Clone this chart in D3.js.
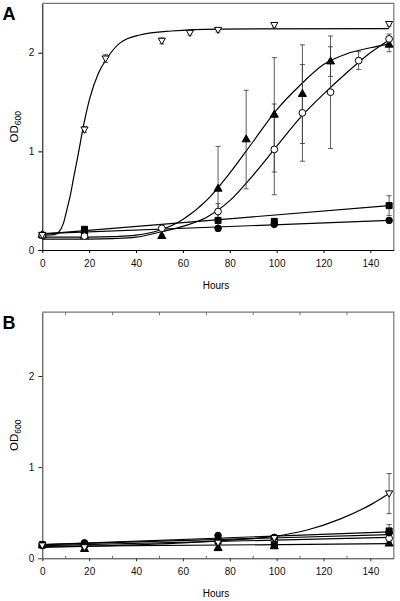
<!DOCTYPE html>
<html><head><meta charset="utf-8">
<script src="https://cdn.jsdelivr.net/npm/d3@7"></script>
<style>body{margin:0;background:#fff;} text{font-family:"Liberation Sans",Arial,sans-serif;}</style>
</head><body><svg id="c" width="400" height="601"></svg>
<script>
// ---------- DATA ----------
const xTicks = [0, 20, 40, 60, 80, 100, 120, 140];
const yTicks = [0, 1, 2];
const minorTicks = [10, 30, 50, 70, 90, 110, 130];

// Panel A measured points (hours, OD600, error)
const A_invTri_x = [0, 18, 27, 51, 63, 75, 99, 148];
const A_invTri_y = [0.15, 1.22, 1.94, 2.12, 2.20, 2.23, 2.28, 2.29];
const A_invTri_e = [0.01, 0.03, 0.04, 0.03, 0.02, 0.02, 0.02, 0.02];
const A_tri_x = [0, 18, 51, 75, 87, 99, 111, 123, 148];
const A_tri_y = [0.15, 0.14, 0.14, 0.62, 1.12, 1.37, 1.58, 1.91, 2.08];
const A_tri_e = [0.01, 0.01, 0.02, 0.43, 0.50, 0.58, 0.50, 0.15, 0.07];
const A_oc_x = [0, 18, 51, 75, 99, 111, 123, 135, 148];
const A_oc_y = [0.15, 0.14, 0.22, 0.39, 1.02, 1.39, 1.60, 1.92, 2.14];
const A_oc_e = [0.01, 0.03, 0.02, 0.08, 0.46, 0.49, 0.57, 0.09, 0.05];
const A_sq_x = [0, 18, 75, 99, 148];
const A_sq_y = [0.15, 0.21, 0.30, 0.29, 0.45];
const A_sq_e = [0.01, 0.02, 0.02, 0.02, 0.10];
const A_fc_x = [0, 18, 75, 99, 148];
const A_fc_y = [0.15, 0.17, 0.22, 0.26, 0.30];
const A_fc_e = [0.01, 0.01, 0.02, 0.02, 0.02];

// Panel A fitted curves
const A_invTri_fitX = [0, 5, 7, 9, 10.5, 12, 13.2, 15.4, 17.5, 20.4, 23.9, 27.5, 33.2, 41.7, 55, 75, 148];
const A_invTri_fitY = [0.15, 0.155, 0.18, 0.27, 0.41, 0.56, 0.71, 0.98, 1.25, 1.55, 1.79, 1.94, 2.10, 2.18, 2.22, 2.24, 2.245];
const A_tri_fitX = [0, 20, 30, 40, 50, 60, 70, 80, 90, 100, 110, 120, 130, 140, 148];
const A_tri_fitY = [0.13, 0.13, 0.135, 0.15, 0.20, 0.31, 0.50, 0.78, 1.10, 1.42, 1.67, 1.88, 1.99, 2.05, 2.09];
const A_oc_fitX = [0, 20, 30, 40, 50, 60, 70, 80, 90, 100, 110, 120, 130, 140, 148];
const A_oc_fitY = [0.11, 0.11, 0.115, 0.13, 0.18, 0.24, 0.33, 0.50, 0.76, 1.05, 1.34, 1.58, 1.80, 2.00, 2.13];
const A_sq_fitX = [0, 148];
const A_sq_fitY = [0.16, 0.45];
const A_fc_fitX = [0, 148];
const A_fc_fitY = [0.165, 0.30];

// Panel B measured points
const B_invTri_x = [0, 18, 75, 99, 148];
const B_invTri_y = [0.14, 0.12, 0.17, 0.22, 0.71];
const B_invTri_e = [0.01, 0.02, 0.02, 0.02, 0.22];
const B_tri_x = [0, 18, 75, 99, 148];
const B_tri_y = [0.14, 0.10, 0.11, 0.13, 0.16];
const B_tri_e = [0.01, 0.02, 0.02, 0.02, 0.02];
const B_oc_x = [0, 18, 75, 99, 148];
const B_oc_y = [0.14, 0.14, 0.20, 0.20, 0.22];
const B_oc_e = [0.01, 0.02, 0.03, 0.02, 0.03];
const B_sq_x = [0, 18, 75, 99, 148];
const B_sq_y = [0.15, 0.15, 0.19, 0.15, 0.30];
const B_sq_e = [0.01, 0.02, 0.02, 0.02, 0.07];
const B_fc_x = [0, 18, 75, 99, 148];
const B_fc_y = [0.15, 0.17, 0.25, 0.23, 0.28];
const B_fc_e = [0.01, 0.02, 0.02, 0.02, 0.02];

// Panel B fitted curves
const B_invTri_fitX = [0, 30, 60, 80, 99, 113, 127, 141, 148];
const B_invTri_fitY = [0.12, 0.14, 0.17, 0.20, 0.24, 0.31, 0.43, 0.60, 0.71];
const B_tri_fitX = [0, 148];
const B_tri_fitY = [0.13, 0.16];
const B_oc_fitX = [0, 148];
const B_oc_fitY = [0.14, 0.23];
const B_fc_fitX = [0, 148];
const B_fc_fitY = [0.15, 0.26];
const B_sq_fitX = [0, 148];
const B_sq_fitY = [0.15, 0.29];

// ---------- DRAWING ----------
const svg = d3.select("#c");
const x = d3.scaleLinear().domain([0, 150]).range([42.3, 393.8]);

const zip = (xs, ys, es) => xs.map((v, i) => ({x: v, y: ys[i], e: es ? es[i] : 0}));

const symbols = {
  fc: {type: d3.symbolCircle, size: 34, fill: "#000", rot: 0},
  sq: {type: d3.symbolSquare, size: 36, fill: "#000", rot: 0},
  oc: {type: d3.symbolCircle, size: 36, fill: "#fff", rot: 0},
  tri: {type: d3.symbolTriangle, size: 28, fill: "#000", rot: 0},
  invTri: {type: d3.symbolTriangle, size: 22, fill: "#fff", rot: 180}
};

function panel(cfg) {
  const y = d3.scaleLinear().domain([0, cfg.ymax]).range([cfg.bottom, cfg.top]);
  const g = svg.append("g");
  const x0 = x.range()[0], x1 = x.range()[1];

  // frame (top + right)
  g.append("path")
    .attr("d", `M${x0},${cfg.top}H${x1}V${cfg.bottom}`)
    .attr("fill", "none").attr("stroke", "#777").attr("stroke-width", 1.2);

  // axes
  const xa = g.append("g").attr("transform", `translate(0,${cfg.bottom})`)
    .call(d3.axisBottom(x).tickValues(xTicks).tickSize(3).tickSizeOuter(0).tickPadding(7).tickFormat(d3.format("d")));
  const ya = g.append("g").attr("transform", `translate(${x0},0)`)
    .call(d3.axisLeft(y).tickValues(yTicks).tickSize(4).tickSizeOuter(0).tickPadding(4).tickFormat(d3.format("d")));
  [xa, ya].forEach(a => {
    a.selectAll("text").attr("font-size", 10).attr("fill", "#111")
      .attr("font-family", "'Liberation Sans',Arial,sans-serif");
    a.selectAll("path,line").attr("stroke", cfg.axisColor);
  });
  if (cfg.minor) {
    g.selectAll(".mb").data(minorTicks).join("line")
      .attr("x1", d => x(d)).attr("x2", d => x(d))
      .attr("y1", cfg.bottom).attr("y2", cfg.bottom - 2.5)
      .attr("stroke", "#444").attr("stroke-width", 0.8);
    g.selectAll(".mt").data(minorTicks).join("line")
      .attr("x1", d => x(d)).attr("x2", d => x(d))
      .attr("y1", cfg.top).attr("y2", cfg.top + 3)
      .attr("stroke", "#555").attr("stroke-width", 0.8);
  }

  // labels
  g.append("text").attr("x", 216).attr("y", cfg.bottom + 39)
    .attr("text-anchor", "middle").attr("font-size", 10).text("Hours");
  const yl = g.append("text")
    .attr("transform", `translate(18,${(cfg.top + cfg.bottom) / 2}) rotate(-90)`)
    .attr("text-anchor", "middle").attr("font-size", 11.5);
  yl.append("tspan").text("OD");
  yl.append("tspan").attr("font-size", 8.5).attr("dy", 3).text("600");
  g.append("text").attr("x", 2.5).attr("y", cfg.top + 16.5)
    .attr("font-size", 18).attr("font-weight", "bold").text(cfg.letter);

  // fitted curves
  const line = d3.line().x(d => x(d.x)).y(d => y(d.y)).curve(d3.curveMonotoneX);
  cfg.series.forEach(s => {
    g.append("path").datum(zip(s.fx, s.fy))
      .attr("d", line).attr("fill", "none")
      .attr("stroke", "#000").attr("stroke-width", 1.2);
  });

  // error bars
  cfg.series.forEach(s => {
    const pts = zip(s.px, s.py, s.pe).filter(d => d.e > 0.015);
    const eg = g.append("g").attr("stroke", "#333").attr("stroke-width", 0.8);
    eg.selectAll(".v").data(pts).join("line")
      .attr("x1", d => x(d.x)).attr("x2", d => x(d.x))
      .attr("y1", d => y(d.y - d.e)).attr("y2", d => y(d.y + d.e));
    eg.selectAll(".t").data(pts).join("line")
      .attr("x1", d => x(d.x) - 2.5).attr("x2", d => x(d.x) + 2.5)
      .attr("y1", d => y(d.y + d.e)).attr("y2", d => y(d.y + d.e));
    eg.selectAll(".b").data(pts).join("line")
      .attr("x1", d => x(d.x) - 2.5).attr("x2", d => x(d.x) + 2.5)
      .attr("y1", d => y(d.y - d.e)).attr("y2", d => y(d.y - d.e));
  });

  // markers
  cfg.series.forEach(s => {
    const sym = symbols[s.sym];
    const gen = d3.symbol().type(sym.type).size(sym.size);
    g.selectAll(null).data(zip(s.px, s.py)).join("path")
      .attr("d", gen)
      .attr("transform", d => `translate(${x(d.x)},${y(d.y) + (sym.rot ? -0.6 : 0)}) rotate(${sym.rot})`)
      .attr("fill", sym.fill).attr("stroke", "#000").attr("stroke-width", 1);
  });
}

panel({
  letter: "A", ymax: 2.5, top: 3.4, bottom: 250, axisColor: "#000", minor: false,
  series: [
    {sym: "fc", px: A_fc_x, py: A_fc_y, pe: A_fc_e, fx: A_fc_fitX, fy: A_fc_fitY},
    {sym: "sq", px: A_sq_x, py: A_sq_y, pe: A_sq_e, fx: A_sq_fitX, fy: A_sq_fitY},
    {sym: "tri", px: A_tri_x, py: A_tri_y, pe: A_tri_e, fx: A_tri_fitX, fy: A_tri_fitY},
    {sym: "oc", px: A_oc_x, py: A_oc_y, pe: A_oc_e, fx: A_oc_fitX, fy: A_oc_fitY},
    {sym: "invTri", px: A_invTri_x, py: A_invTri_y, pe: A_invTri_e, fx: A_invTri_fitX, fy: A_invTri_fitY}
  ]
});

panel({
  letter: "B", ymax: 2.7, top: 312.2, bottom: 558.3, axisColor: "#333", minor: true,
  series: [
    {sym: "tri", px: B_tri_x, py: B_tri_y, pe: B_tri_e, fx: B_tri_fitX, fy: B_tri_fitY},
    {sym: "oc", px: B_oc_x, py: B_oc_y, pe: B_oc_e, fx: B_oc_fitX, fy: B_oc_fitY},
    {sym: "sq", px: B_sq_x, py: B_sq_y, pe: B_sq_e, fx: B_sq_fitX, fy: B_sq_fitY},
    {sym: "fc", px: B_fc_x, py: B_fc_y, pe: B_fc_e, fx: B_fc_fitX, fy: B_fc_fitY},
    {sym: "invTri", px: B_invTri_x, py: B_invTri_y, pe: B_invTri_e, fx: B_invTri_fitX, fy: B_invTri_fitY}
  ]
});
</script></body></html>
